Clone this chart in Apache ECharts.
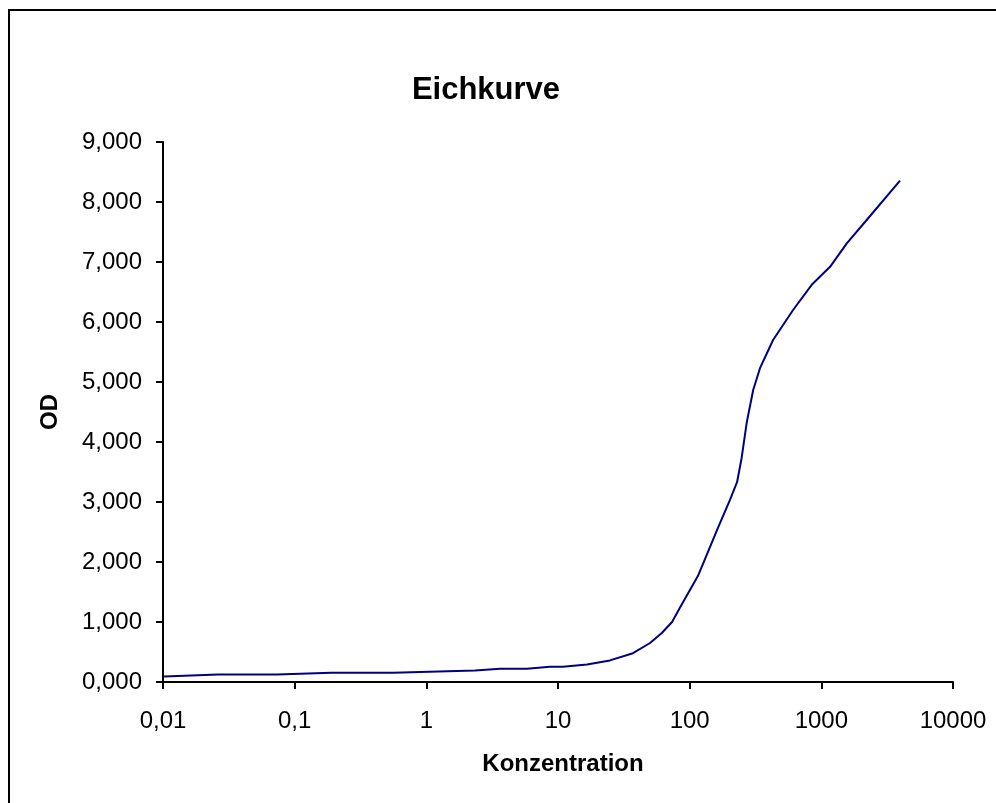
<!DOCTYPE html>
<html>
<head>
<meta charset="utf-8">
<script src="https://cdn.jsdelivr.net/npm/echarts@6/dist/echarts.min.js"></script>
<style>
html,body{margin:0;padding:0;background:#fff;}
#c{width:996px;height:803px;}
</style>
</head>
<body>
<div id="c"></div>
<script>
const titleText = 'Eichkurve';
const xTitle = 'Konzentration';
const yTitle = 'OD';
const concentration = [0.0102, 0.0262, 0.0734, 0.189, 0.558, 2.34, 3.63, 5.8, 8.7, 10.9, 16.6, 24.8, 37.1, 50, 61.7, 73.5, 84.9, 115.7, 164, 202, 229, 248, 271, 304, 342, 430, 610, 845, 1165, 1560, 2210, 3960];
const od = [0.09, 0.125, 0.125, 0.155, 0.155, 0.19, 0.22, 0.22, 0.255, 0.255, 0.29, 0.36, 0.48, 0.65, 0.82, 1.0, 1.25, 1.77, 2.57, 3.03, 3.33, 3.73, 4.32, 4.87, 5.23, 5.7, 6.2, 6.62, 6.92, 7.31, 7.7, 8.355];

const font = 'Liberation Sans, Arial, sans-serif';
const chart = echarts.init(document.getElementById('c'), null, {renderer: 'canvas'});
chart.setOption({
  animation: false,
  backgroundColor: '#fff',
  title: {
    text: titleText,
    left: 481, top: 70, textAlign: 'center',
    textStyle: {fontFamily: font, fontSize: 31, fontWeight: 'bold', color: '#000'}
  },
  graphic: [{
    type: 'rect', shape: {x: 9, y: 10, width: 1100, height: 1000},
    style: {fill: 'none', stroke: '#000', lineWidth: 2}, silent: true
  }],
  grid: {left: 163, top: 142, right: 43, bottom: 121, containLabel: false},
  xAxis: {
    type: 'log', logBase: 10, min: 0.01, max: 10000, splitNumber: 6,
    name: xTitle, nameLocation: 'middle', nameGap: 70, nameMoveOverlap: false,
    nameTextStyle: {fontFamily: font, fontSize: 24, fontWeight: 'bold', color: '#000', padding: [0, 0, 0, 10]},
    axisLine: {show: true, lineStyle: {color: '#000', width: 2}},
    axisTick: {show: true, inside: false, length: 7, lineStyle: {color: '#000', width: 2}},
    axisLabel: {
      fontFamily: font, fontSize: 24, color: '#000', margin: 27,
      formatter: v => String(Number(v.toPrecision(6))).replace('.', ',')
    },
    splitLine: {show: false}, minorTick: {show: false}
  },
  yAxis: {
    type: 'value', min: 0, max: 9, interval: 1,
    name: yTitle, nameLocation: 'middle', nameGap: 101, nameRotate: 90, nameMoveOverlap: false,
    nameTextStyle: {fontFamily: font, fontSize: 24, fontWeight: 'bold', color: '#000'},
    axisLine: {show: true, lineStyle: {color: '#000', width: 2}},
    axisTick: {show: true, inside: false, length: 7, lineStyle: {color: '#000', width: 2}},
    axisLabel: {
      fontFamily: font, fontSize: 24, color: '#000', margin: 21,
      formatter: v => v.toFixed(3).replace('.', ',')
    },
    splitLine: {show: false}
  },
  series: [{
    type: 'line',
    data: concentration.map((c, i) => [c, od[i]]),
    showSymbol: false, symbol: 'none', smooth: false,
    lineStyle: {color: '#000080', width: 2},
    itemStyle: {color: '#000080'}
  }]
});
</script>
</body>
</html>
